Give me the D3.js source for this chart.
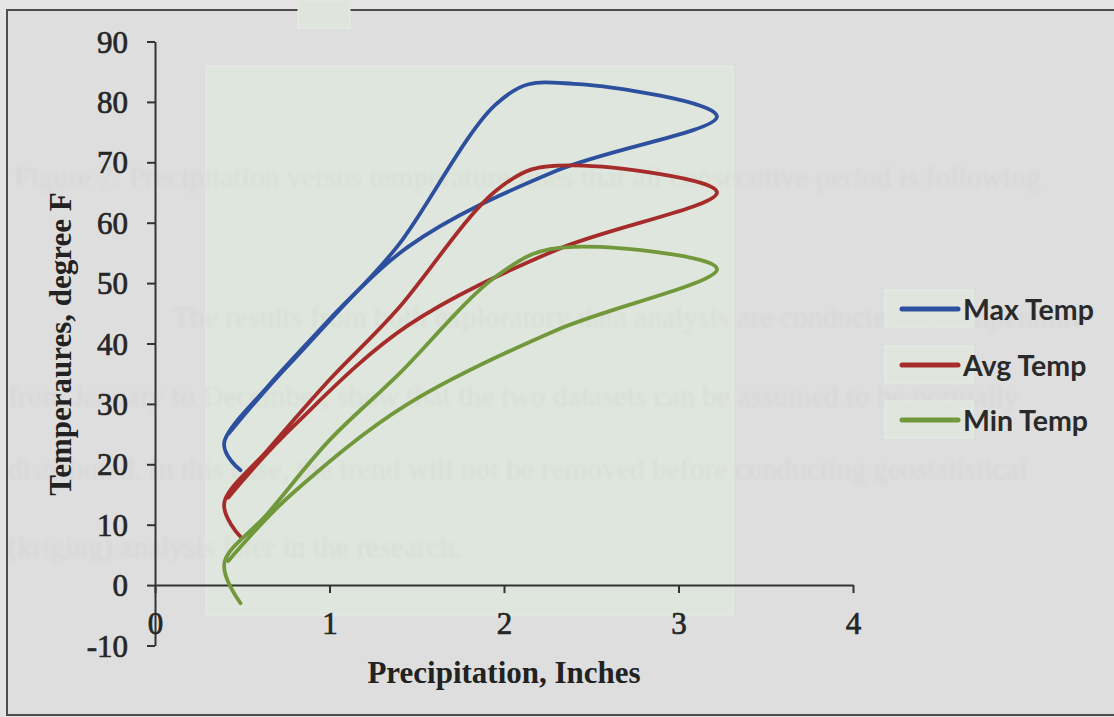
<!DOCTYPE html>
<html>
<head>
<meta charset="utf-8">
<script src="https://cdn.jsdelivr.net/npm/d3@7"></script>
<style>
  html, body { margin: 0; padding: 0; background: #e3e3e3; }
  svg { display: block; }
</style>
</head>
<body>
<svg id="chart" width="1114" height="717"></svg>
<script>
// Monthly precipitation (inches) against monthly temperatures (degree F)
const months  = ["Jan","Feb","Mar","Apr","May","Jun","Jul","Aug","Sep","Oct","Nov","Dec"];
const precip  = [0.49, 0.40, 0.65, 1.00, 1.40, 1.95, 2.40, 3.22, 2.30, 1.45, 0.80, 0.42];
const maxTemp = [19, 24, 33, 44, 56.5, 79.5, 83, 77.5, 68.6, 56, 37.5, 25];
const avgTemp = [8, 14, 22.5, 34, 46, 65.2, 69.5, 64.9, 55.5, 43, 26.5, 14.5];
const minTemp = [-3, 4, 12, 24, 35, 51, 56, 52.2, 42.2, 30, 15.5, 4];

const seriesNames = ["Max Temp", "Avg Temp", "Min Temp"];
const seriesColors = ["#2c4f9e", "#a52c2a", "#71983a"];
const xTicks = [0, 1, 2, 3, 4];
const yTicks = [-10, 0, 10, 20, 30, 40, 50, 60, 70, 80, 90];

// page text showing faintly through the scanned sheet
const pageLines = [
  "Figure 7: Precipitation versus temperature lines that all consecutive period is following",
  "The results from both exploratory data analysis are conducted on temperature",
  "from January to December, show that the two datasets can be assumed to be normally",
  "distributed. In this case, the trend will not be removed before conducting geostatistical",
  "(kriging) analysis later in the research."
];
const pageLineX = [14, 172, 8, 8, 8];
const pageLineY = [178, 318, 397, 470, 548];

const svg = d3.select("#chart");

const x = d3.scaleLinear().domain([0, 4]).range([155, 853]);
const y = d3.scaleLinear().domain([-10, 90]).range([645.5, 41.5]);

// sheet background and frame
svg.append("rect").attr("x", 0).attr("y", 0).attr("width", 1114).attr("height", 717).attr("fill", "#e4e4e4");
svg.append("rect").attr("x", 7).attr("y", 10).attr("width", 1200).attr("height", 705)
  .attr("fill", "#dedede").attr("stroke", "#4d4d4d").attr("stroke-width", 2);
svg.append("rect").attr("x", 298).attr("y", 0).attr("width", 52).attr("height", 28)
  .attr("fill", "#dfe4dc").attr("stroke", "#e8ebe6").attr("stroke-width", 1);

// plot area fill
svg.append("rect").attr("x", 206).attr("y", 66).attr("width", 527).attr("height", 549)
  .attr("fill", "#dfe6dd").attr("stroke", "#e6ebe4").attr("stroke-width", 1);

// faint show-through text
const defs = svg.append("defs");
defs.append("filter").attr("id", "soft")
  .append("feGaussianBlur").attr("stdDeviation", 1.6);
svg.append("g").attr("filter", "url(#soft)")
  .selectAll("text").data(pageLines).join("text")
  .attr("x", (d, i) => pageLineX[i])
  .attr("y", (d, i) => pageLineY[i])
  .attr("dy", "0.32em")
  .attr("font-family", "'Liberation Serif', 'DejaVu Serif', serif")
  .attr("font-size", 29.5)
  .attr("fill", "#000")
  .attr("fill-opacity", 0.04)
  .text(d => d);

// axes
const axisColor = "#333";
const plainInt = d => String(d);
const yAxis = svg.append("g").attr("transform", `translate(${x(0)},0)`)
  .call(d3.axisLeft(y).tickValues(yTicks).tickSize(8).tickSizeOuter(0).tickPadding(19).tickFormat(plainInt));
const xAxis = svg.append("g").attr("transform", `translate(0,${y(0)})`)
  .call(d3.axisBottom(x).tickValues(xTicks).tickSize(8).tickSizeOuter(0).tickFormat(plainInt));

[yAxis, xAxis].forEach(g => {
  g.select(".domain").attr("stroke", axisColor).attr("stroke-width", 2);
  g.selectAll(".tick line").attr("stroke", axisColor).attr("stroke-width", 2);
  g.selectAll(".tick text")
    .attr("font-family", "'Liberation Serif', 'Times New Roman', serif")
    .attr("font-size", 31)
    .attr("fill", "#262626")
    .attr("stroke", "#262626").attr("stroke-width", 0.7);
});
yAxis.selectAll(".tick text").attr("dy", "0.34em");
xAxis.selectAll(".tick text").attr("y", y(-10) - y(0) - 22).attr("dy", "0.34em");

// axis titles
svg.append("text")
  .attr("transform", "translate(71,344) rotate(-90)")
  .attr("text-anchor", "middle")
  .attr("font-family", "'Liberation Serif', 'Times New Roman', serif")
  .attr("font-weight", "bold").attr("font-size", 31).attr("fill", "#222")
  .text("Temperaures, degree F");
svg.append("text")
  .attr("x", 504).attr("y", 683)
  .attr("text-anchor", "middle")
  .attr("font-family", "'Liberation Serif', 'Times New Roman', serif")
  .attr("font-weight", "bold").attr("font-size", 31).attr("fill", "#222")
  .text("Precipitation, Inches");

// smoothed series lines
const tempSeries = [maxTemp, avgTemp, minTemp];
const line = d3.line()
  .x(d => x(d.p))
  .y(d => y(d.t))
  .curve(d3.curveCardinal.tension(0));

svg.append("g").selectAll("path").data(tempSeries).join("path")
  .attr("d", temps => line(temps.map((t, i) => ({ p: precip[i], t, m: months[i] }))))
  .attr("fill", "none")
  .attr("stroke", (d, i) => seriesColors[i])
  .attr("stroke-width", 3.8)
  .attr("stroke-linejoin", "round")
  .attr("stroke-linecap", "round");

// legend
const legend = svg.append("g");
const rowY = [309, 365, 420];
const item = legend.selectAll("g").data(seriesNames).join("g")
  .attr("transform", (d, i) => `translate(0,${rowY[i]})`);
item.append("rect").attr("x", 885).attr("y", -19).attr("width", 88).attr("height", 37)
  .attr("fill", "#e0e6dd").attr("stroke", "#e8ece6").attr("stroke-width", 1);
item.append("line").attr("x1", 902).attr("x2", 958).attr("y1", 0).attr("y2", 0)
  .attr("stroke", (d, i) => seriesColors[i]).attr("stroke-width", 5).attr("stroke-linecap", "round");
item.append("text").attr("x", 963).attr("y", 11)
  .attr("font-family", "Lato, 'Open Sans', sans-serif")
  .attr("font-weight", "bold").attr("font-size", 28.5).attr("fill", "#2a2a2a")
  .text(d => d);
</script>
</body>
</html>
